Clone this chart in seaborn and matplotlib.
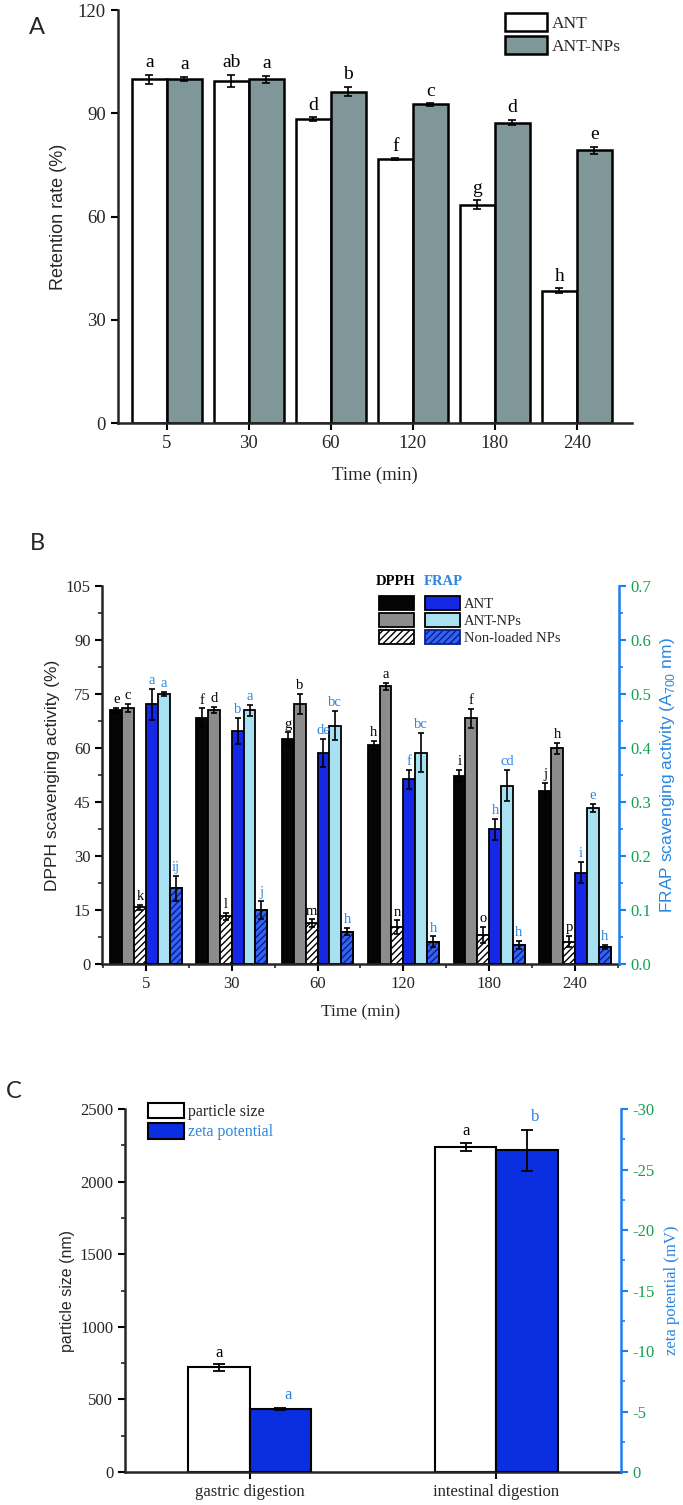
import numpy as np
import pandas as pd
import matplotlib
matplotlib.use('Agg')
import matplotlib.pyplot as plt
import matplotlib.patches as patches
from matplotlib.ticker import MultipleLocator, FixedLocator, FormatStrFormatter
import seaborn as sns

# ---- Panel A: retention rate ----
time_labels = ['5', '30', '60', '120', '180', '240']
ant_ret = [99.9, 99.4, 88.3, 76.7, 63.5, 38.5]
ant_ret_err = [1.3, 1.8, 0.6, 0.2, 1.3, 0.7]
np_ret = [100.0, 99.9, 96.3, 92.6, 87.3, 79.2]
np_ret_err = [0.7, 1.0, 1.4, 0.4, 0.8, 1.1]
ant_ret_sig = ['a', 'ab', 'd', 'f', 'g', 'h']
np_ret_sig = ['a', 'a', 'b', 'c', 'd', 'e']

# ---- Panel B: DPPH (%) and FRAP (A700) ----
dpph_ant = [70.4, 68.4, 62.6, 60.7, 52.2, 48.1]
dpph_ant_err = [0.7, 2.6, 1.7, 1.2, 1.6, 2.2]
dpph_np = [71.1, 70.6, 72.1, 77.1, 68.2, 59.9]
dpph_np_err = [1.2, 0.8, 2.8, 1.0, 2.6, 1.6]
dpph_blank = [15.7, 13.2, 11.3, 10.2, 8.1, 6.2]
dpph_blank_err = [0.6, 1.0, 1.1, 1.9, 2.3, 1.6]
frap_ant = [0.481, 0.431, 0.391, 0.342, 0.249, 0.169]
frap_ant_err = [0.029, 0.024, 0.026, 0.018, 0.020, 0.020]
frap_np = [0.500, 0.470, 0.441, 0.391, 0.330, 0.289]
frap_np_err = [0.003, 0.010, 0.027, 0.036, 0.029, 0.008]
frap_blank = [0.140, 0.100, 0.060, 0.041, 0.035, 0.032]
frap_blank_err = [0.023, 0.017, 0.006, 0.010, 0.008, 0.004]
dpph_ant_sig = ['e', 'f', 'g', 'h', 'i', 'j']
dpph_np_sig = ['c', 'd', 'b', 'a', 'f', 'h']
dpph_blank_sig = ['k', 'l', 'm', 'n', 'o', 'p']
frap_ant_sig = ['a', 'b', 'de', 'f', 'h', 'i']
frap_np_sig = ['a', 'a', 'bc', 'bc', 'cd', 'e']
frap_blank_sig = ['ij', 'j', 'h', 'h', 'h', 'h']

# ---- Panel C: particle size and zeta potential ----
stage_labels = ['gastric digestion', 'intestinal digestion']
part_size = [721, 2240]
part_size_err = [22, 28]
zeta_pot = [-5.2, -26.6]
zeta_pot_err = [0.1, 1.7]
part_size_sig = ['a', 'a']
zeta_pot_sig = ['a', 'b']

sns.set_style('ticks')
plt.rcParams['font.family'] = ['Liberation Serif', 'DejaVu Serif']
plt.rcParams['mathtext.fontset'] = 'custom'
plt.rcParams['mathtext.rm'] = 'Liberation Sans'
plt.rcParams['axes.unicode_minus'] = False
plt.rcParams['hatch.linewidth'] = 1.0

blue_axis = '#1a7ff0'
green_tick = '#12a150'
blue_text = '#2a86e0'
sans = 'Liberation Sans'

fig = plt.figure(figsize=(6.83, 15.05), dpi=100)


def style_axis(ax, size):
    for s in ['left', 'bottom', 'right']:
        ax.spines[s].set_linewidth(1.8)
    ax.spines['top'].set_visible(False)
    ax.tick_params(axis='both', which='major', direction='out', length=5, width=1.5,
                   labelsize=size, color='black')
    ax.tick_params(axis='both', which='minor', direction='out', length=3, width=1.2)


def bar_groups(ax):
    # seaborn leaves empty containers for hue levels missing from the data
    return [c for c in ax.containers if len(c) > 0]


def add_err(ax, container, vals, errs, lw=1.2, cap=3):
    xs = [p.get_x() + p.get_width() / 2 for p in container]
    ax.errorbar(xs, vals, yerr=errs, fmt='none', ecolor='black', elinewidth=lw,
                capsize=cap, capthick=lw, zorder=5)
    return xs


def add_sig(ax, xs, vals, errs, sig, pad, color='black', size=10):
    for x, v, e, s in zip(xs, vals, errs, sig):
        ax.text(x, v + e + pad, s, ha='center', va='bottom', fontsize=size, color=color)


# ================= Panel A =================
axA = fig.add_axes([0.1722, 0.7189, 0.7526, 0.2744])
groupsA = ['ANT', 'ANT-NPs']
colorsA = {'ANT': 'white', 'ANT-NPs': '#7f9799'}
df_a = pd.DataFrame({'time': time_labels * 2,
                     'value': ant_ret + np_ret,
                     'group': ['ANT'] * 6 + ['ANT-NPs'] * 6})
sns.barplot(data=df_a, x='time', y='value', hue='group', order=time_labels,
            hue_order=groupsA, palette=colorsA, width=0.85, dodge=True, saturation=1,
            edgecolor='black', linewidth=1.8, errorbar=None, legend=False, ax=axA)
barsA = bar_groups(axA)
xs = add_err(axA, barsA[0], ant_ret, ant_ret_err, lw=1.2, cap=3)
add_sig(axA, xs, ant_ret, ant_ret_err, ant_ret_sig, 1.0, size=14)
xs = add_err(axA, barsA[1], np_ret, np_ret_err, lw=1.2, cap=3)
add_sig(axA, xs, np_ret, np_ret_err, np_ret_sig, 1.0, size=14)

axA.set_xlim(-0.6, 5.67)
axA.set_ylim(0, 120)
axA.set_yticks([0, 30, 60, 90, 120])
style_axis(axA, 13.5)
axA.spines['right'].set_visible(False)
axA.set_ylabel('Retention rate (%)', fontsize=13, family=sans)
axA.yaxis.set_label_coords(-0.0975, 0.5)
axA.set_xlabel('Time (min)', fontsize=13.5)
axA.xaxis.set_label_coords(0.5, -0.105)
hA = [patches.Patch(facecolor=colorsA[g], edgecolor='black', linewidth=1.8) for g in groupsA]
axA.legend(hA, groupsA, loc='upper left', bbox_to_anchor=(0.754, 0.993), frameon=False,
           borderpad=0, borderaxespad=0, handlelength=2.4, handleheight=1.2,
           handletextpad=0.3, labelspacing=0.25, fontsize=12.5)

# ================= Panel B =================
axB = fig.add_axes([0.1500, 0.3595, 0.7556, 0.2512])
axB2 = axB.twinx()
levelsB = ['DPPH ANT', 'DPPH ANT-NPs', 'DPPH Non-loaded NPs',
           'FRAP ANT', 'FRAP ANT-NPs', 'FRAP Non-loaded NPs']
colorsB = {'DPPH ANT': '#050505', 'DPPH ANT-NPs': '#8c8c8c', 'DPPH Non-loaded NPs': 'white',
           'FRAP ANT': '#1428e6', 'FRAP ANT-NPs': '#a8e2f2', 'FRAP Non-loaded NPs': '#3263f2'}
df_dpph = pd.DataFrame({'time': time_labels * 3,
                        'value': dpph_ant + dpph_np + dpph_blank,
                        'group': ['DPPH ANT'] * 6 + ['DPPH ANT-NPs'] * 6 + ['DPPH Non-loaded NPs'] * 6})
df_frap = pd.DataFrame({'time': time_labels * 3,
                        'value': frap_ant + frap_np + frap_blank,
                        'group': ['FRAP ANT'] * 6 + ['FRAP ANT-NPs'] * 6 + ['FRAP Non-loaded NPs'] * 6})
sns.barplot(data=df_dpph, x='time', y='value', hue='group', order=time_labels,
            hue_order=levelsB, palette=colorsB, width=0.83, dodge=True, saturation=1,
            edgecolor='black', linewidth=1.3, errorbar=None, legend=False, ax=axB)
sns.barplot(data=df_frap, x='time', y='value', hue='group', order=time_labels,
            hue_order=levelsB, palette=colorsB, width=0.83, dodge=True, saturation=1,
            edgecolor='black', linewidth=1.3, errorbar=None, legend=False, ax=axB2)
barsB = bar_groups(axB)
barsB2 = bar_groups(axB2)

# hatching for the non-loaded NPs
for p in barsB[2]:
    p.set_hatch('/////')
for p in barsB2[2]:
    p.set_hatch('/////')
    p.set_edgecolor('#0b1f8c')
    axB2.add_patch(patches.Rectangle(p.get_xy(), p.get_width(), p.get_height(),
                                     fill=False, edgecolor='black', linewidth=1.3, zorder=3))

dpph_sets = [(dpph_ant, dpph_ant_err, dpph_ant_sig), (dpph_np, dpph_np_err, dpph_np_sig),
             (dpph_blank, dpph_blank_err, dpph_blank_sig)]
frap_sets = [(frap_ant, frap_ant_err, frap_ant_sig), (frap_np, frap_np_err, frap_np_sig),
             (frap_blank, frap_blank_err, frap_blank_sig)]
for cont, (v, e, s) in zip(barsB, dpph_sets):
    xs = add_err(axB, cont, v, e, lw=1.2, cap=2.5)
    add_sig(axB, xs, v, e, s, 0.5, size=10.5)
for cont, (v, e, s) in zip(barsB2, frap_sets):
    xs = add_err(axB2, cont, v, e, lw=1.2, cap=2.5)
    add_sig(axB2, xs, v, e, s, 0.0035, color=blue_text, size=10.5)

axB.set_xlim(-0.507, 5.508)
axB.set_ylim(0, 105)
axB.yaxis.set_major_locator(MultipleLocator(15))
axB.yaxis.set_minor_locator(MultipleLocator(7.5))
axB.xaxis.set_minor_locator(FixedLocator(np.arange(len(time_labels) + 1) - 0.5))
axB2.set_ylim(0, 0.7)
axB2.yaxis.set_major_locator(MultipleLocator(0.1))
axB2.yaxis.set_minor_locator(MultipleLocator(0.05))
axB2.yaxis.set_major_formatter(FormatStrFormatter('%.1f'))
style_axis(axB, 12)
style_axis(axB2, 12)
axB.spines['right'].set_visible(False)
axB2.spines['left'].set_visible(False)
axB2.spines['bottom'].set_visible(False)
axB2.spines['right'].set_color(blue_axis)
axB2.tick_params(axis='y', which='both', color=blue_axis, labelcolor=green_tick)
axB.set_ylabel('DPPH scavenging activity (%)', fontsize=12.5, family=sans)
axB.yaxis.set_label_coords(-0.082, 0.5)
axB.set_xlabel('Time (min)', fontsize=12.5)
axB.xaxis.set_label_coords(0.5, -0.108)
axB2.set_ylabel('FRAP scavenging activity (A$_{700}$ nm)', fontsize=12.5, family=sans,
                color=blue_text)
axB2.yaxis.set_label_coords(1.077, 0.5)

hB = []
for g in levelsB:
    if 'DPPH' in g and 'Non' in g:
        hB.append(patches.Patch(facecolor='white', edgecolor='black', hatch='/////', linewidth=1.3))
    elif 'Non' in g:
        hB.append(patches.Patch(facecolor=colorsB[g], edgecolor='#0b1f8c', hatch='/////', linewidth=1.3))
    else:
        hB.append(patches.Patch(facecolor=colorsB[g], edgecolor='black', linewidth=1.3))
axB2.legend(hB, ['', '', '', 'ANT', 'ANT-NPs', 'Non-loaded NPs'], ncol=2, loc='upper left',
            bbox_to_anchor=(0.536, 0.974), frameon=False, borderpad=0, borderaxespad=0,
            handlelength=2.4, handleheight=1.15, handletextpad=0.25, columnspacing=0.5,
            labelspacing=0.12, fontsize=10.5)
axB.text(0.569, 1.011, 'DPPH', transform=axB.transAxes, ha='center', va='center',
         fontsize=10.5, color='black', fontweight='bold')
axB.text(0.66, 1.011, 'FRAP', transform=axB.transAxes, ha='center', va='center',
         fontsize=10.5, color=blue_text, fontweight='bold')

# ================= Panel C =================
axC = fig.add_axes([0.1830, 0.0219, 0.7256, 0.2412])
axC2 = axC.twinx()
levelsC = ['particle size', 'zeta potential']
colorsC = {'particle size': 'white', 'zeta potential': '#0a2fe0'}
df_size = pd.DataFrame({'stage': stage_labels, 'value': part_size, 'group': 'particle size'})
df_zeta = pd.DataFrame({'stage': stage_labels, 'value': zeta_pot, 'group': 'zeta potential'})
sns.barplot(data=df_size, x='stage', y='value', hue='group', order=stage_labels,
            hue_order=levelsC, palette=colorsC, width=0.5, dodge=True, saturation=1,
            edgecolor='black', linewidth=1.5, errorbar=None, legend=False, ax=axC)
sns.barplot(data=df_zeta, x='stage', y='value', hue='group', order=stage_labels,
            hue_order=levelsC, palette=colorsC, width=0.5, dodge=True, saturation=1,
            edgecolor='black', linewidth=1.5, errorbar=None, legend=False, ax=axC2)
barsC = bar_groups(axC)
barsC2 = bar_groups(axC2)
xs = add_err(axC, barsC[0], part_size, part_size_err, lw=1.3, cap=4)
add_sig(axC, xs, part_size, part_size_err, part_size_sig, 25, size=12)
xs = add_err(axC2, barsC2[0], zeta_pot, zeta_pot_err, lw=1.3, cap=4)
for x, v, e, s in zip(xs, zeta_pot, zeta_pot_err, zeta_pot_sig):
    axC2.text(x + 0.03, v - e - 0.4, s, ha='center', va='bottom', fontsize=12, color=blue_text)

axC.set_xlim(-0.505, 1.503)
axC.set_ylim(0, 2500)
axC.yaxis.set_major_locator(MultipleLocator(500))
axC.yaxis.set_minor_locator(MultipleLocator(250))
axC2.set_ylim(0, -30)
axC2.yaxis.set_major_locator(MultipleLocator(5))
axC2.yaxis.set_minor_locator(MultipleLocator(2.5))
style_axis(axC, 12)
style_axis(axC2, 12)
axC.spines['right'].set_visible(False)
axC2.spines['left'].set_visible(False)
axC2.spines['bottom'].set_visible(False)
axC2.spines['right'].set_color(blue_axis)
axC2.tick_params(axis='y', which='both', color=blue_axis, labelcolor=green_tick)
axC.tick_params(axis='x', labelsize=12)
axC.set_xlabel('')
axC.set_ylabel('particle size (nm)', fontsize=11.5, family=sans)
axC.yaxis.set_label_coords(-0.101, 0.5)
axC2.set_ylabel('zeta potential (mV)', fontsize=12, color=blue_text)
axC2.yaxis.set_label_coords(1.088, 0.5)
hC = [patches.Patch(facecolor=colorsC[g], edgecolor='black', linewidth=1.5) for g in levelsC]
legC = axC2.legend(hC, levelsC, loc='upper left', bbox_to_anchor=(0.046, 1.0165), frameon=False,
                   borderpad=0, borderaxespad=0, handlelength=2.25, handleheight=1.1,
                   handletextpad=0.25, labelspacing=0.2, fontsize=11.5)
legC.get_texts()[1].set_color(blue_text)

# panel letters
for letter, (px, py) in zip(['A', 'B', 'C'], [(37, 28), (37, 543), (14, 1092)]):
    fig.text(px / 683, 1 - py / 1505, letter, ha='center', va='center', fontsize=17,
             family=['Lato', 'DejaVu Sans'])

fig.savefig('out.png', dpi=100)
